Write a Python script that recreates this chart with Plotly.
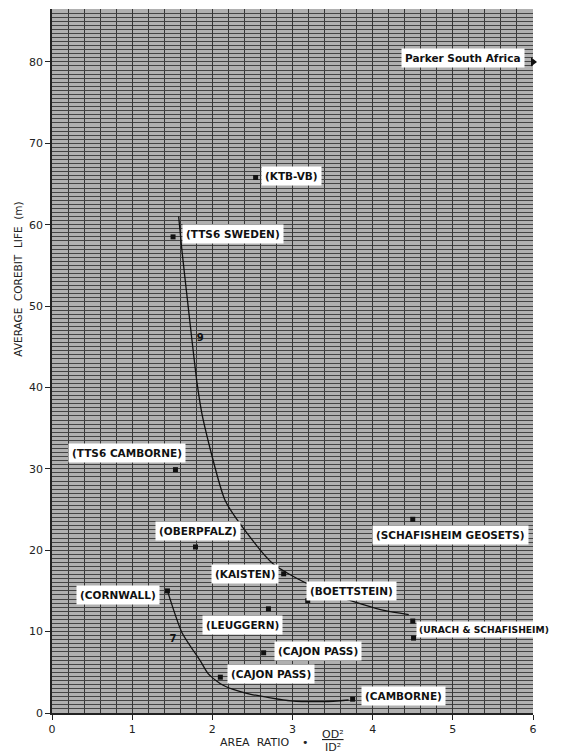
import plotly.graph_objects as go

# Site data (area ratio, average corebit life in m)
site_names = ["Parker South Africa", "(KTB-VB)", "(TTS6 SWEDEN)", "(TTS6 CAMBORNE)",
              "(OBERPFALZ)", "(SCHAFISHEIM GEOSETS)", "(KAISTEN)", "(BOETTSTEIN)",
              "(URACH & SCHAFISHEIM)", "(CORNWALL)", "(LEUGGERN)", "(CAJON PASS)",
              "(CAJON PASS)", "(CAMBORNE)"]
site_x = [6.0, 2.54, 1.51, 1.54, 1.79, 4.50, 2.89, 3.19, 4.50, 1.44, 2.70, 2.64, 2.10, 3.75]
site_y = [80.0, 65.8, 58.5, 29.9, 20.4, 23.8, 17.1, 13.8, 11.3, 15.0, 12.8, 7.4, 4.4, 1.7]
# label placement (anchor, x shift px, y shift px, font size)
label_anchor = ["right", "left", "left", "center", "center", "center", "right", "center",
                "left", "right", "center", "left", "left", "left"]
label_dx = [-8, 5, 9, -48, 2, 38, -5, 44, 3, -7, -26, 10, 7, 8]
label_dy = [4, 1, 3, 17, 16, -16, 0, 10, -8, -4, -16, 2, 3, 3]
label_size = [10.5, 10.5, 10.5, 10.5, 10.5, 10.5, 10.5, 10.5, 9.2, 10.5, 10.5, 10.5, 10.5, 10.5]

extra_x = [4.51, 1.85, 1.51]
extra_y = [9.2, 46.0, 9.0]
extra_txt = ["", "9", "7"]

# Fitted trend curves
upper_x = [1.58, 1.62, 1.69, 1.81, 1.88, 2.16, 2.44, 2.76, 3.16, 3.60, 4.14, 4.45]
upper_y = [61.0, 56.9, 50.7, 40.5, 36.3, 26.1, 22.0, 18.3, 16.0, 14.2, 12.6, 12.1]
lower_x = [1.44, 1.62, 1.85, 1.95, 2.10, 2.26, 2.48, 2.98, 3.40, 3.70]
lower_y = [15.0, 9.9, 6.4, 4.8, 3.6, 2.9, 2.3, 1.5, 1.4, 1.6]

x_ticks = [0, 1, 2, 3, 4, 5, 6]
y_ticks = [0, 10, 20, 30, 40, 50, 60, 70, 80]

FONT = "DejaVu Sans"

fig = go.Figure()
fig.add_trace(go.Scatter(x=upper_x, y=upper_y, mode="lines",
                         line=dict(color="#111", width=1.3, shape="spline", smoothing=0.6),
                         showlegend=False, hoverinfo="skip"))
fig.add_trace(go.Scatter(x=lower_x, y=lower_y, mode="lines",
                         line=dict(color="#111", width=1.3, shape="spline", smoothing=0.6),
                         showlegend=False, hoverinfo="skip"))
fig.add_trace(go.Scatter(x=site_x[1:], y=site_y[1:], mode="markers",
                         marker=dict(color="#111", size=5, symbol="square"), showlegend=False))
fig.add_trace(go.Scatter(x=site_x[:1], y=site_y[:1], mode="markers",
                         marker=dict(color="#111", size=8, symbol="triangle-right"),
                         cliponaxis=False, showlegend=False))
fig.add_trace(go.Scatter(x=extra_x[:1], y=extra_y[:1], mode="markers",
                         marker=dict(color="#111", size=5, symbol="square"), showlegend=False))
fig.add_trace(go.Scatter(x=extra_x[1:], y=extra_y[1:], mode="text", text=["<b>%s</b>" % t for t in extra_txt[1:]],
                         textfont=dict(size=10, color="#111", family=FONT), showlegend=False))

for name, x, y, anc, dx, dy, fs in zip(site_names, site_x, site_y, label_anchor, label_dx, label_dy, label_size):
    fig.add_annotation(x=x, y=y, text="<b>%s</b>" % name.replace("&", "&amp;"), showarrow=False,
                       xanchor=anc, yanchor="middle", xshift=dx, yshift=dy,
                       bgcolor="white", borderpad=3 if fs > 10 else 2,
                       font=dict(size=fs, color="#111", family=FONT))

fig.add_annotation(xref="paper", yref="paper", x=-0.0707, y=0.617, xanchor="center", yanchor="middle",
                   text="AVERAGE  COREBIT  LIFE  (m)",
                   textangle=-90, showarrow=False, font=dict(size=10.5, color="#222", family=FONT))
fig.add_annotation(xref="paper", yref="paper", x=0.422, y=-0.0426, xanchor="center", yanchor="middle",
                   text="AREA  RATIO", showarrow=False, font=dict(size=11, color="#222", family=FONT))
fig.add_annotation(xref="paper", yref="paper", x=0.528, y=-0.0426, xanchor="center", yanchor="middle",
                   text="\u2022", showarrow=False, font=dict(size=11, color="#222", family=FONT))
fig.add_annotation(xref="paper", yref="paper", x=0.584, y=-0.030, xanchor="center", yanchor="middle",
                   text="<u>OD\u00b2</u>", showarrow=False, font=dict(size=11, color="#222", family=FONT))
fig.add_annotation(xref="paper", yref="paper", x=0.584, y=-0.0497, xanchor="center", yanchor="middle",
                   text="ID\u00b2", showarrow=False, font=dict(size=11, color="#222", family=FONT))

fig.update_xaxes(range=[0, 6], tickvals=x_ticks, ticktext=[str(v) for v in x_ticks],
                 ticks="outside", ticklen=5, tickcolor="#222", showline=True, linecolor="#222", linewidth=1.5,
                 showgrid=True, gridcolor="#363636", gridwidth=1.4,
                 minor=dict(dtick=0.2, showgrid=True, gridcolor="#363636", gridwidth=1.4),
                 zeroline=False, tickfont=dict(size=11, color="#222", family=FONT))
fig.update_yaxes(range=[0, 86.5], tickvals=y_ticks, ticktext=[str(v) for v in y_ticks],
                 ticks="outside", ticklen=5, tickcolor="#222", showline=True, linecolor="#222", linewidth=1.5,
                 showgrid=True, gridcolor="#444444", gridwidth=1.2,
                 minor=dict(dtick=0.5, showgrid=True, gridcolor="#444444", gridwidth=1.2),
                 zeroline=False, tickfont=dict(size=11, color="#222", family=FONT))

fig.update_layout(width=559, height=745, margin=dict(l=44, r=34, t=1, b=40),
                  plot_bgcolor="#b0b0b0", paper_bgcolor="white", showlegend=False)
fig.write_html("out.html")
